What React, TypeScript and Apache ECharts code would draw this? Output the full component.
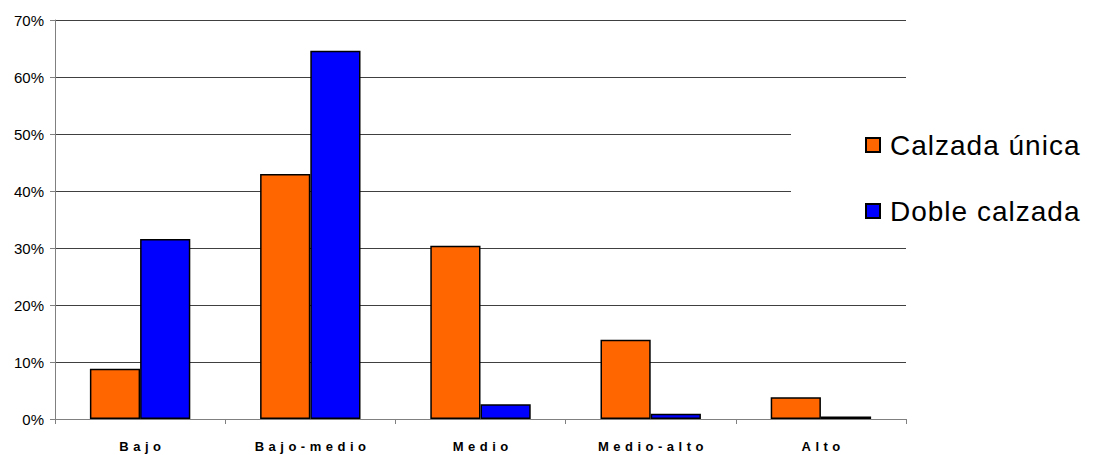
import React, { useEffect, useRef } from "react";
import * as echarts from "echarts";

const categories = ["Bajo", "Bajo-medio", "Medio", "Medio-alto", "Alto"];
const calzadaUnica = [8.8, 43.0, 30.4, 13.9, 3.8];
const dobleCalzada = [31.6, 64.6, 2.6, 0.9, 0.45];
const seriesNames = ["Calzada única", "Doble calzada"];

export default function App() {
  const ref = useRef<HTMLDivElement>(null);
  useEffect(() => {
    document.body.style.margin = "0";
    const chart = echarts.init(ref.current!, null, { renderer: "svg" });
    const font = "'Liberation Sans', Arial, sans-serif";
    chart.setOption({
      animation: false,
      backgroundColor: "#fff",
      textStyle: { fontFamily: font },
      grid: { left: 55, right: 188, top: 20, bottom: 36 },
      legend: {
        orient: "vertical",
        left: 791,
        top: 100,
        padding: [31, 10, 17, 74],
        backgroundColor: "#fff",
        icon: "rect",
        itemWidth: 14,
        itemHeight: 14,
        itemGap: 38,
        textStyle: { fontSize: 28, color: "#000", fontFamily: font, lineHeight: 27, padding: [0, 0, 0, 5] },
        data: seriesNames,
      },
      xAxis: {
        type: "category",
        data: categories,
        axisLine: { lineStyle: { color: "#808080", width: 1 } },
        axisTick: { show: true, length: 5, lineStyle: { color: "#808080" } },
        axisLabel: { fontSize: 13, fontWeight: "bold", color: "#000", margin: 21, fontFamily: font },
      },
      yAxis: {
        type: "value",
        min: 0,
        max: 70,
        interval: 10,
        axisLine: { show: true, lineStyle: { color: "#808080", width: 1 } },
        axisTick: { show: true, length: 5, lineStyle: { color: "#808080" } },
        axisLabel: { formatter: "{value}%", fontSize: 15, color: "#000", margin: 11, fontFamily: font },
        splitLine: { show: true, lineStyle: { color: "#404040", width: 1 } },
      },
      series: [
        {
          name: seriesNames[0],
          type: "bar",
          data: calzadaUnica,
          barGap: "0%",
          barCategoryGap: "41%",
          itemStyle: { color: "#FF6600", borderColor: "#000", borderWidth: 1.5 },
        },
        {
          name: seriesNames[1],
          type: "bar",
          data: dobleCalzada,
          barGap: "0%",
          barCategoryGap: "41%",
          itemStyle: { color: "#0000FF", borderColor: "#000", borderWidth: 1.5 },
        },
      ],
    });
    // widen letter spacing as in the reference
    const texts = ref.current!.querySelectorAll("text");
    texts.forEach((t) => {
      const s = (t.textContent || "").trim();
      if (categories.includes(s)) {
        t.setAttribute("letter-spacing", "4.5px");
        t.setAttribute("dx", "2.25");
      } else if (seriesNames.includes(s)) {
        t.setAttribute("letter-spacing", "1px");
      }
    });
    return () => chart.dispose();
  }, []);
  return <div ref={ref} style={{ width: 1094, height: 455 }} />;
}
